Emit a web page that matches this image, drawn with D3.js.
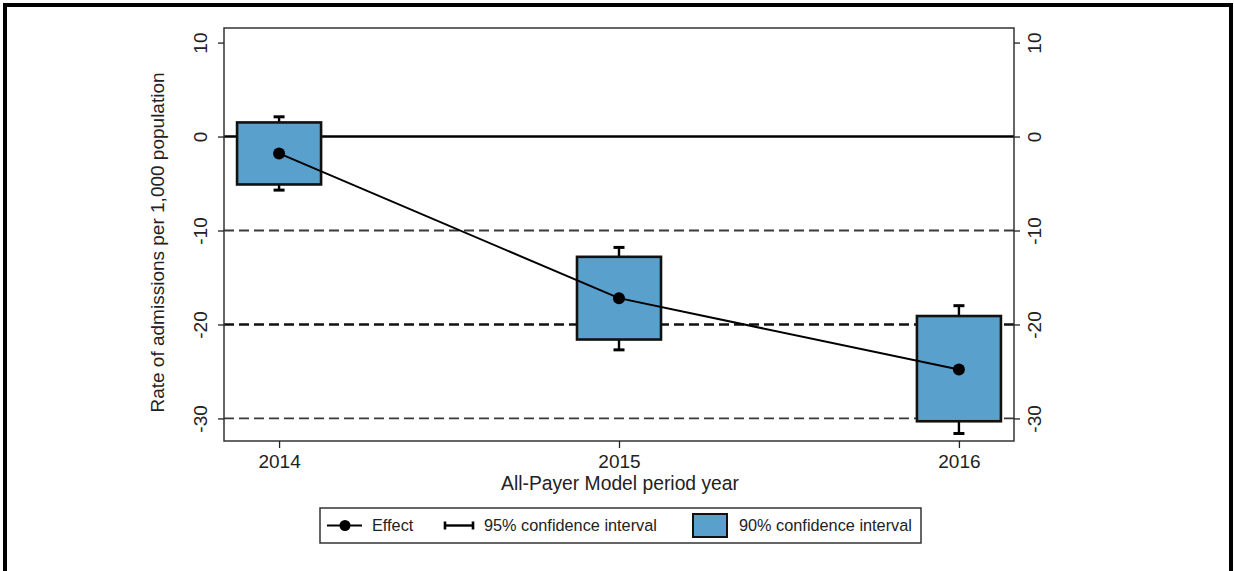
<!DOCTYPE html>
<html>
<head>
<meta charset="utf-8">
<script src="https://cdn.jsdelivr.net/npm/d3@7"></script>
<style>
  html, body { margin: 0; padding: 0; background: #fff; }
  svg { display: block; font-family: "Liberation Sans", Arial, sans-serif; }
</style>
</head>
<body>
<svg id="chart" width="1234" height="571"></svg>
<script>
// Estimated effect of the All-Payer Model on admissions, by period year
const years = [2014, 2015, 2016];
const effect = [-1.8, -17.2, -24.8];
const ci90Low = [-5.1, -21.6, -30.3];
const ci90High = [1.5, -12.8, -19.1];
const ci95Low = [-5.7, -22.7, -31.6];
const ci95High = [2.1, -11.8, -18.0];
const yTicks = [10, 0, -10, -20, -30];
const refLines = [-10, -20, -30];

const svg = d3.select("#chart");
const W = 1234, H = 571;

// outer frame
svg.append("path")
  .attr("d", `M5,${H} V5 H1231 V${H}`)
  .attr("fill", "none").attr("stroke", "#000").attr("stroke-width", 4);

const plotL = 224, plotR = 1014, plotT = 28, plotB = 441;

const x = d3.scaleLinear().domain([2013.838, 2016.162]).range([plotL, plotR]);
const y = d3.scaleLinear().domain([11.55, -32.4]).range([plotT, plotB]);

// dashed reference lines
svg.append("g").selectAll("line").data(refLines).join("line")
  .attr("x1", plotL).attr("x2", plotR)
  .attr("y1", d => y(d)).attr("y2", d => y(d))
  .attr("stroke", d => d === -20 ? "#111" : "#3a3a3a")
  .attr("stroke-width", d => d === -20 ? 2.4 : 1.8)
  .attr("stroke-dasharray", "10,5");

// zero line
svg.append("line")
  .attr("x1", plotL).attr("x2", plotR)
  .attr("y1", y(0)).attr("y2", y(0))
  .attr("stroke", "#000").attr("stroke-width", 2.6);

// plot frame
svg.append("rect")
  .attr("x", plotL).attr("y", plotT)
  .attr("width", plotR - plotL).attr("height", plotB - plotT)
  .attr("fill", "none").attr("stroke", "#333").attr("stroke-width", 1.5);

// axes (plain hyphen for negatives)
const fmt = d => String(d);
const yAxisL = d3.axisLeft(y).tickValues(yTicks).tickSize(6).tickFormat(fmt);
const yAxisR = d3.axisRight(y).tickValues(yTicks).tickSize(6).tickFormat(fmt);
const xAxis = d3.axisBottom(x).tickValues(years).tickSize(7).tickFormat(fmt);

function styleAxis(g) {
  g.select(".domain").remove();
  g.selectAll(".tick line").attr("stroke", "#222").attr("stroke-width", 1.3);
  g.selectAll(".tick text").attr("font-size", 19).attr("fill", "#222")
    .attr("font-family", "Liberation Sans, Arial, sans-serif");
}

const gL = svg.append("g").attr("transform", `translate(${plotL},0)`).call(yAxisL).call(styleAxis);
gL.selectAll(".tick text")
  .attr("x", null).attr("dy", null)
  .attr("text-anchor", "middle")
  .attr("transform", "translate(-24,0) rotate(-90)")
  .attr("dy", "0.35em");

const gR = svg.append("g").attr("transform", `translate(${plotR},0)`).call(yAxisR).call(styleAxis);
gR.selectAll(".tick text")
  .attr("x", null).attr("dy", null)
  .attr("text-anchor", "middle")
  .attr("transform", "translate(20,0) rotate(-90)")
  .attr("dy", "0.35em");

const gX = svg.append("g").attr("transform", `translate(0,${plotB})`).call(xAxis).call(styleAxis);
gX.selectAll(".tick text").attr("dy", null).attr("y", 27);

// axis titles
svg.append("text")
  .attr("transform", `translate(157,${(plotT + plotB) / 2 + 8}) rotate(-90)`)
  .attr("text-anchor", "middle").attr("dy", "0.35em")
  .attr("font-size", 19).attr("fill", "#222")
  .text("Rate of admissions per 1,000 population");

svg.append("text")
  .attr("x", 620).attr("y", 490)
  .attr("text-anchor", "middle")
  .attr("font-size", 19.3).attr("fill", "#222")
  .text("All-Payer Model period year");

const data = years.map((yr, i) => ({
  yr, eff: effect[i], lo90: ci90Low[i], hi90: ci90High[i], lo95: ci95Low[i], hi95: ci95High[i]
}));

const boxW = 84, capW = 11;
const blue = "#5aa0cc";

// 95% whiskers
const wg = svg.append("g").selectAll("g").data(data).join("g");
wg.append("line")
  .attr("x1", d => x(d.yr)).attr("x2", d => x(d.yr))
  .attr("y1", d => y(d.hi95)).attr("y2", d => y(d.lo95))
  .attr("stroke", "#000").attr("stroke-width", 2.4);
wg.append("line")
  .attr("x1", d => x(d.yr) - capW / 2).attr("x2", d => x(d.yr) + capW / 2)
  .attr("y1", d => y(d.hi95)).attr("y2", d => y(d.hi95))
  .attr("stroke", "#000").attr("stroke-width", 3);
wg.append("line")
  .attr("x1", d => x(d.yr) - capW / 2).attr("x2", d => x(d.yr) + capW / 2)
  .attr("y1", d => y(d.lo95)).attr("y2", d => y(d.lo95))
  .attr("stroke", "#000").attr("stroke-width", 3);

// 90% boxes
svg.append("g").selectAll("rect").data(data).join("rect")
  .attr("x", d => x(d.yr) - boxW / 2)
  .attr("y", d => y(d.hi90))
  .attr("width", boxW)
  .attr("height", d => y(d.lo90) - y(d.hi90))
  .attr("fill", blue).attr("stroke", "#111").attr("stroke-width", 2.6);

// effect line and points
svg.append("path")
  .datum(data)
  .attr("d", d3.line().x(d => x(d.yr)).y(d => y(d.eff)))
  .attr("fill", "none").attr("stroke", "#000").attr("stroke-width", 2);
svg.append("g").selectAll("circle").data(data).join("circle")
  .attr("cx", d => x(d.yr)).attr("cy", d => y(d.eff)).attr("r", 6)
  .attr("fill", "#000");

// legend
const lg = svg.append("g");
lg.append("rect").attr("x", 320).attr("y", 508).attr("width", 601).attr("height", 35)
  .attr("fill", "#fff").attr("stroke", "#333").attr("stroke-width", 1.5);
const ly = 525.5;
const lfs = 16.3;
lg.append("line").attr("x1", 327).attr("x2", 362).attr("y1", ly).attr("y2", ly)
  .attr("stroke", "#000").attr("stroke-width", 2);
lg.append("circle").attr("cx", 345).attr("cy", ly).attr("r", 5.5).attr("fill", "#000");
lg.append("text").attr("x", 372).attr("y", ly).attr("dy", "0.35em")
  .attr("font-size", lfs).attr("fill", "#222").text("Effect");

lg.append("line").attr("x1", 445).attr("x2", 473).attr("y1", ly).attr("y2", ly)
  .attr("stroke", "#000").attr("stroke-width", 2.4);
[445, 473].forEach(xx => lg.append("line").attr("x1", xx).attr("x2", xx)
  .attr("y1", ly - 4).attr("y2", ly + 4).attr("stroke", "#000").attr("stroke-width", 2.6));
lg.append("text").attr("x", 484).attr("y", ly).attr("dy", "0.35em")
  .attr("font-size", lfs).attr("fill", "#222").text("95% confidence interval");

lg.append("rect").attr("x", 693).attr("y", 514).attr("width", 34).attr("height", 23)
  .attr("fill", blue).attr("stroke", "#111").attr("stroke-width", 2);
lg.append("text").attr("x", 739).attr("y", ly).attr("dy", "0.35em")
  .attr("font-size", lfs).attr("fill", "#222").text("90% confidence interval");
</script>
</body>
</html>
